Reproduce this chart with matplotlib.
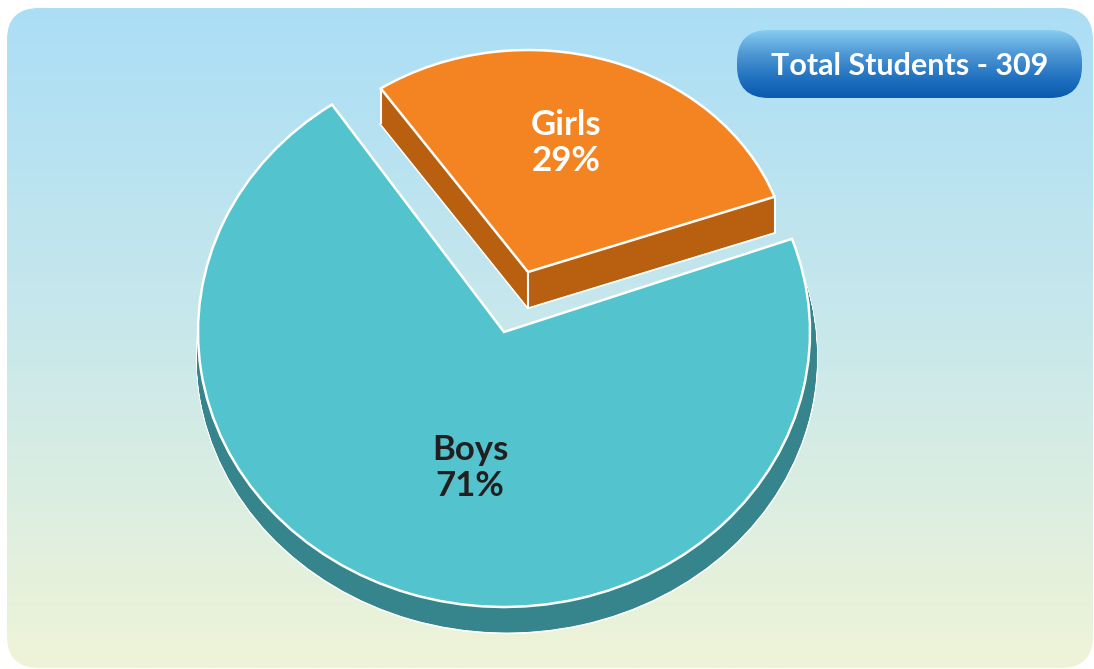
import numpy as np
import matplotlib
matplotlib.use("Agg")
import matplotlib.pyplot as plt
from matplotlib.patches import Wedge, FancyBboxPatch
from matplotlib.transforms import Affine2D
from matplotlib.colors import LinearSegmentedColormap

# ---------------- data ----------------
categories = ["Girls", "Boys"]
percentages = [29, 71]
total_students = 309
top_colors = ["#F48422", "#53C3CD"]
side_colors = ["#B86010", "#36848C"]
label_colors = ["#FFFFFF", "#231F20"]

W, H = 1094, 669
fig = plt.figure(figsize=(W / 100, H / 100), dpi=100, facecolor="white")
ax = fig.add_axes([0, 0, 1, 1])
ax.axis("off")

# ---------------- background panel ----------------
bg = FancyBboxPatch((7, 8), 1086, 660, boxstyle="round,pad=0,rounding_size=32",
                    fc="none", ec="none")
ax.add_patch(bg)
bg_cmap = LinearSegmentedColormap.from_list(
    "bg", [(0, "#ABDEF6"), (0.5, "#C9E8EB"), (1, "#EFF4D7")])
im = ax.imshow(np.linspace(0, 1, 256).reshape(-1, 1), cmap=bg_cmap,
               extent=(7, 1093, 668, 8), aspect="auto", zorder=0)
im.set_clip_path(bg)

# ---------------- pie geometry (style) ----------------
mid_girls = 72.0
spans = [360.0 * p / sum(percentages) for p in percentages]
start = mid_girls - spans[0] / 2
angles = []
a0 = start
for sp in spans:
    angles.append((a0, a0 + sp))
    a0 += sp

geom = {
    # cx, cy, a, b, depth, dx, grow_x
    "Girls": (528, 272, 262, 222, 36, 0, 0.0),
    "Boys": (504, 332, 306, 275, 26, 3, 0.013),
}


def tr_for(cx, cy, a, b, dx=0.0, dy=0.0, gx=1.0):
    return Affine2D().scale(a * gx, -b).translate(cx + dx, cy + dy) + ax.transData


def draw_slice(name, t1, t2, top, side, n=50):
    cx, cy, a, b, depth, dx, grow = geom[name]
    ts = np.linspace(1, 0, n)
    for k, t in enumerate(ts):
        w = Wedge((0, 0), 1, t1, t2,
                  transform=tr_for(cx, cy, a, b, dx * t, depth * t, 1 + grow * t),
                  fc=side, ec="white" if k == 0 else "none",
                  lw=1.6 if k == 0 else 0, zorder=2)
        ax.add_patch(w)
    if name == "Girls":
        top_tr = tr_for(cx, cy, a, b)
        bot_tr = tr_for(cx, cy, a, b, dx, depth, 1 + grow)
        for ang in (None, t1, t2):
            p = (0.0, 0.0) if ang is None else (np.cos(np.radians(ang)), np.sin(np.radians(ang)))
            p_top = ax.transData.inverted().transform(top_tr.transform(p))
            p_bot = ax.transData.inverted().transform(bot_tr.transform(p))
            ax.plot([p_top[0], p_bot[0]], [p_top[1], p_bot[1]], color="white",
                    lw=1.5, zorder=2.5, solid_capstyle="butt")
    ax.add_patch(Wedge((0, 0), 1, t1, t2, transform=tr_for(cx, cy, a, b),
                       fc=top, ec="white", lw=1.8, zorder=3))


for name, (t1, t2), tc, sc in zip(categories, angles, top_colors, side_colors):
    draw_slice(name, t1, t2, tc, sc)

# ---------------- labels ----------------
label_pos = {"Girls": (566, 143), "Boys": (470, 468)}
for name, pct, lc in zip(categories, percentages, label_colors):
    x, y = label_pos[name]
    ax.text(x, y, f"{name}\n{pct}%", color=lc, fontsize=25, fontweight="bold",
            family="Lato", ha="center", va="center", linespacing=1.18, zorder=6)

# ---------------- title badge ----------------
badge = FancyBboxPatch((737, 30), 345, 68, boxstyle="round,pad=0,rounding_size=32",
                       fc="none", ec="none", zorder=5)
ax.add_patch(badge)
badge_cmap = LinearSegmentedColormap.from_list(
    "badge", [(0, "#86CDF1"), (0.35, "#4E97D4"), (0.7, "#2172C0"), (1, "#0A5AAD")])
bim = ax.imshow(np.linspace(0, 1, 128).reshape(-1, 1), cmap=badge_cmap,
                extent=(737, 1082, 98, 30), aspect="auto", zorder=5)
bim.set_clip_path(badge)
ax.text(910, 66, f"Total Students - {total_students}", color="white",
        fontsize=22, fontweight="bold", family="Lato", ha="center", va="center",
        zorder=6)

ax.set_xlim(0, W)
ax.set_ylim(H, 0)
fig.savefig("out.png", dpi=100, facecolor="white")
